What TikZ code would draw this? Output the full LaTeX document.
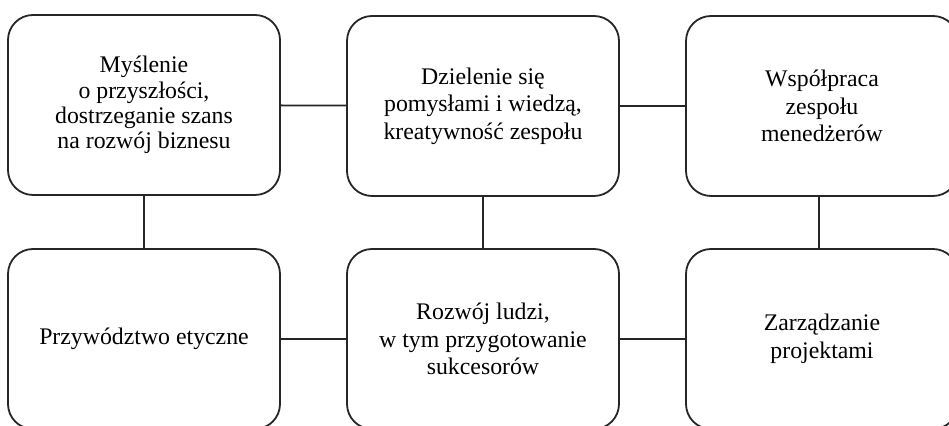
\documentclass[tikz,border=0pt]{standalone}
\usepackage{fontspec}
\setmainfont{Liberation Serif}
\usetikzlibrary{positioning}

\begin{document}
\begin{tikzpicture}[
  x=0.5pt, y=-0.5pt,
  font=\fontsize{11.9}{13.8}\selectfont,
  topic/.style={draw=black!85, line width=0.9pt, rounded corners=12.5pt, align=center,
    minimum width=136pt, minimum height=90pt, inner sep=0pt},
  tight/.style={font=\fontsize{11.9}{12.6}\selectfont},
  link/.style={draw=black!85, line width=0.9pt}
]
\useasboundingbox (0,0) rectangle (949,426);
\clip (0,0) rectangle (949,426);

% upper row
\node[topic, tight] (future) at (144,105) {Myślenie\\o przyszłości,\\dostrzeganie szans\\na rozwój biznesu};
\node[topic] (sharing) at (483,106) {Dzielenie się\\pomysłami i wiedzą,\\kreatywność zespołu};
\node[topic] (managers) at (822,106) {Współpraca\\zespołu\\menedżerów};

% lower row
\node[topic] (ethics) at (144,339) {Przywództwo etyczne};
\node[topic] (people) at (483,339) {Rozwój ludzi,\\w tym przygotowanie\\sukcesorów};
\node[topic] (projects) at (822,339) {Zarządzanie\\projektami};

% connectors
\draw[link] (future) -- (sharing);
\draw[link] (sharing) -- (managers);
\draw[link] (ethics) -- (people);
\draw[link] (people) -- (projects);
\draw[link] (future) -- (ethics);
\draw[link] (sharing) -- (people);
\draw[link] (managers.south -| 819,0) -- (projects.north -| 819,0);
\end{tikzpicture}
\end{document}
